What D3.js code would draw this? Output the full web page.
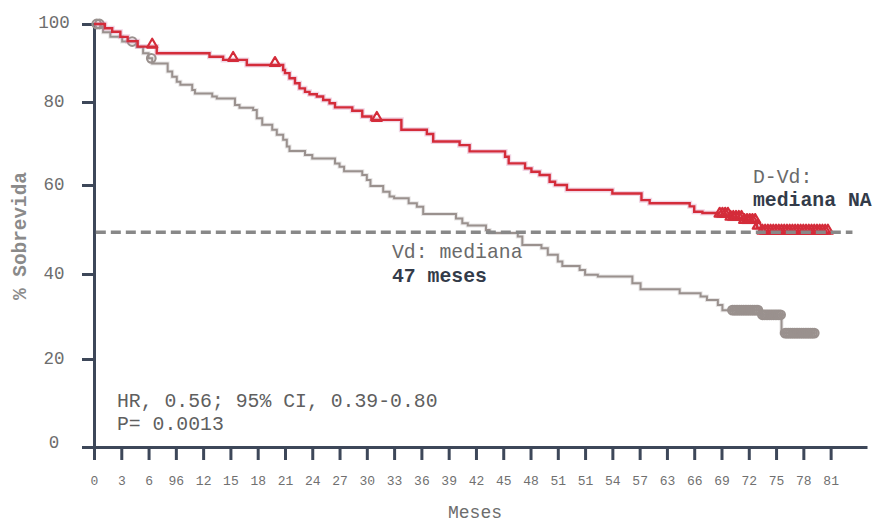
<!DOCTYPE html>
<html>
<head>
<meta charset="utf-8">
<script src="https://cdn.jsdelivr.net/npm/d3@7"></script>
<style>
  html, body { margin: 0; padding: 0; background: #ffffff; }
  svg { display: block; }
  text { font-family: "Liberation Mono", "Courier New", monospace; }
</style>
</head>
<body>
<svg id="chart" width="875" height="524"></svg>
<script>
// ---------- DATA ----------
const xTickLabels = ["0","3","6","96","12","15","18","21","24","27","30","33","36","39","42","45","48","51","51","54","57","63","66","69","72","75","78","81"];
const xTickMonths = [0,3,6,9,12,15,18,21,24,27,30,33,36,39,42,45,48,51,54,57,60,63,66,69,72,75,78,81];
const yTickValues = [0,20,40,60,80,100];

// D-Vd (red) Kaplan-Meier step points: months and % survival
const dvdMonths = [0, 1.2, 2.0, 2.9, 3.7, 4.8, 6.9, 12.7, 14.2, 16.8, 20.8, 21.0, 21.5, 22.1, 22.6, 23.2, 23.7, 24.5, 25.2, 25.9, 26.5, 28.4, 29.5, 30.5, 33.8, 36.6, 37.3, 40.2, 41.3, 45.2, 45.6, 47.4, 48.1, 49.0, 50.1, 50.7, 52.0, 57.0, 60.2, 61.1, 65.5, 66.0, 66.9, 68.6, 69.9, 71.5, 72.9, 73.4, 81.2];
const dvdSurv   = [100, 98.9, 98.0, 96.7, 95.6, 94.2, 92.5, 91.6, 90.8, 89.5, 88.2, 87.4, 86.1, 84.8, 83.5, 82.6, 82.0, 81.4, 80.5, 79.7, 78.7, 77.9, 76.5, 75.7, 73.3, 72.3, 70.5, 69.6, 68.1, 66.8, 65.2, 64.0, 63.2, 62.4, 60.8, 60.0, 58.9, 58.1, 56.6, 55.9, 55.2, 54.0, 53.7, 53.1, 52.4, 51.7, 50.4, 49.3, 49.3];
const dvdCensored = [6.4, 15.3, 19.9, 31.1, 68.8, 69.1, 69.4, 69.7, 70.0, 70.3, 70.6, 70.9, 71.2, 71.5, 71.8, 72.1, 72.4, 72.7, 73.0, 73.5, 73.8, 74.1, 74.4, 74.7, 75.0, 75.3, 75.6, 75.9, 76.2, 76.5, 76.8, 77.1, 77.4, 77.7, 78.0, 78.3, 78.6, 78.9, 79.2, 79.5, 79.8, 80.1, 80.4, 80.7];

// Vd (grey) Kaplan-Meier step points
const vdMonths = [0, 0.7, 1.0, 1.8, 3.1, 4.7, 5.4, 6.0, 6.4, 8.1, 8.6, 9.1, 9.5, 10.8, 11.1, 13.0, 13.5, 15.5, 16.0, 17.5, 17.9, 18.5, 19.6, 20.1, 20.8, 21.2, 21.5, 23.2, 24.0, 26.5, 27.0, 27.5, 29.5, 30.0, 30.4, 31.8, 32.5, 33.0, 34.6, 35.5, 36.2, 39.8, 40.5, 41.1, 43.1, 43.5, 46.6, 47.1, 49.2, 49.9, 51.0, 51.5, 53.4, 54.0, 55.4, 59.2, 60.1, 64.4, 66.7, 67.4, 68.6, 69.1, 73.2, 75.6, 79.2];
const vdSurv   = [100, 99.2, 97.9, 96.7, 95.5, 94.1, 92.5, 91.2, 89.9, 87.8, 86.5, 85.2, 84.4, 83.1, 82.2, 81.4, 80.9, 79.3, 78.6, 78.1, 76.1, 74.5, 73.3, 72.1, 70.9, 69.3, 68.2, 67.2, 66.4, 65.2, 64.4, 63.3, 62.4, 61.2, 59.8, 58.5, 57.4, 57.0, 55.9, 55.1, 53.5, 52.5, 51.4, 50.9, 49.9, 49.2, 48.4, 46.5, 45.8, 44.3, 42.8, 41.8, 40.9, 39.8, 39.4, 37.8, 36.4, 35.5, 34.7, 33.9, 32.7, 31.5, 30.4, 26.1, 26.1];
const vdCensored = [0.3, 0.6, 4.2, 6.3,
  70.2, 70.4, 70.6, 70.8, 71.0, 71.2, 71.4, 71.6, 71.8, 72.0, 72.2, 72.4, 72.6, 72.8, 73.0,
  73.5, 73.7, 73.9, 74.1, 74.3, 74.5, 74.7, 74.9, 75.1, 75.3, 75.5,
  76.0, 76.2, 76.4, 76.6, 76.8, 77.0, 77.2, 77.4, 77.6, 77.8, 78.0, 78.2, 78.4, 78.6, 78.8, 79.0, 79.2];

const medianLevel = 49.4;
const medianSpan = [0.2, 83.4];

const statLines = ["HR, 0.56; 95% CI, 0.39-0.80", "P= 0.0013"];
const dvdNote = ["D-Vd:", "mediana NA"];
const vdNote = ["Vd: mediana", "47 meses"];
const yTitle = "% Sobrevida";
const xTitle = "Meses";

// ---------- LAYOUT ----------
const svg = d3.select("#chart");
const x = d3.scaleLinear().domain([0, 85]).range([94, 867]);
const y = d3.scaleLinear().domain(yTickValues).range([447, 359, 274, 185, 102, 24]);

const AXIS = "#3d4759";
const RED = "#d42c3a";
const GREY = "#9a918e";

// axes
const xAxis = d3.axisBottom(x)
  .tickValues(xTickMonths)
  .tickFormat((d, i) => xTickLabels[i])
  .tickSize(13).tickSizeOuter(0).tickPadding(10);
const gx = svg.append("g").attr("transform", "translate(0,447)").call(xAxis);
gx.select(".domain").attr("stroke", AXIS).attr("stroke-width", 3);
gx.selectAll(".tick line").attr("stroke", AXIS).attr("stroke-width", 3);
gx.selectAll(".tick text")
  .attr("fill", "#707070").attr("font-size", 13)
  .attr("font-family", "Liberation Mono, monospace")
  .attr("y", 0).attr("dy", 38);

const yAxis = d3.axisLeft(y).tickValues(yTickValues).tickSize(12).tickSizeOuter(0);
const gy = svg.append("g").attr("transform", "translate(94,0)").call(yAxis);
gy.select(".domain").attr("stroke", AXIS).attr("stroke-width", 3);
gy.selectAll(".tick line").attr("stroke", AXIS).attr("stroke-width", 3);
gy.selectAll(".tick text")
  .attr("fill", "#6d6d6d").attr("font-size", 17.5)
  .attr("font-family", "Liberation Mono, monospace")
  .attr("text-anchor", "middle").attr("x", -40)
  .attr("dy", d => d === 0 ? "0.05em" : (d === 100 ? "0.2em" : "0.28em"));

// axis titles
svg.append("text")
  .attr("transform", "translate(21,236) rotate(-90)")
  .attr("text-anchor", "middle").attr("dominant-baseline", "central")
  .attr("font-size", 19.4).attr("font-weight", "bold").attr("fill", "#8a8a8a")
  .text(yTitle);
svg.append("text")
  .attr("x", 475).attr("y", 518).attr("text-anchor", "middle")
  .attr("font-size", 18).attr("fill", "#6d6d6d")
  .text(xTitle);

// curves
function pts(months, surv) {
  return months.map((m, i) => [m, surv[i]]);
}
const line = d3.line().x(d => x(d[0])).y(d => y(d[1])).curve(d3.curveStepAfter);
function survAt(months, surv, t) {
  const i = Math.max(0, d3.bisectRight(months, t) - 1);
  return surv[i];
}

const vdPts = pts(vdMonths, vdSurv);
const dvdPts = pts(dvdMonths, dvdSurv);

// grey (Vd)
svg.append("path").datum(vdPts).attr("d", line)
  .attr("fill", "none").attr("stroke", "rgba(160,150,150,0.25)").attr("stroke-width", 4);
svg.append("path").datum(vdPts).attr("d", line)
  .attr("fill", "none").attr("stroke", GREY).attr("stroke-width", 2);
svg.append("g").selectAll("circle").data(vdCensored).join("circle")
  .attr("cx", d => x(d)).attr("cy", d => y(survAt(vdMonths, vdSurv, d)))
  .attr("r", 4.3).attr("fill", "none").attr("stroke", GREY).attr("stroke-width", 2.2);

// red (D-Vd)
svg.append("path").datum(dvdPts).attr("d", line)
  .attr("fill", "none").attr("stroke", "rgba(210,120,170,0.3)").attr("stroke-width", 5);
svg.append("path").datum(dvdPts).attr("d", line)
  .attr("fill", "none").attr("stroke", RED).attr("stroke-width", 2.4);
const tri = d3.symbol(d3.symbolTriangle, 45);
svg.append("g").selectAll("path").data(dvdCensored).join("path")
  .attr("d", tri)
  .attr("transform", d => `translate(${x(d)},${y(survAt(dvdMonths, dvdSurv, d)) - 2})`)
  .attr("fill", "none").attr("stroke", RED).attr("stroke-width", 2.2)
  .attr("stroke-linejoin", "round");

// median dashed line
svg.append("line")
  .attr("x1", x(medianSpan[0])).attr("x2", x(medianSpan[1]))
  .attr("y1", y(medianLevel)).attr("y2", y(medianLevel))
  .attr("stroke", "#888888").attr("stroke-width", 3.5)
  .attr("stroke-dasharray", "10,5");

// annotations
const fs = 19.8;
svg.append("text").attr("x", 753).attr("y", 183).attr("font-size", fs).attr("fill", "#6a6a6a").text(dvdNote[0]);
svg.append("text").attr("x", 753).attr("y", 206).attr("font-size", fs).attr("font-weight", "bold").attr("fill", "#333b49").text(dvdNote[1]);
svg.append("text").attr("x", 392).attr("y", 258).attr("font-size", fs).attr("fill", "#6a6a6a").text(vdNote[0]);
svg.append("text").attr("x", 392).attr("y", 282).attr("font-size", fs).attr("font-weight", "bold").attr("fill", "#333b49").text(vdNote[1]);
svg.append("text").attr("x", 117).attr("y", 407).attr("font-size", fs).attr("fill", "#5f5f5f").text(statLines[0]);
svg.append("text").attr("x", 117).attr("y", 430).attr("font-size", fs).attr("fill", "#5f5f5f").text(statLines[1]);
</script>
</body>
</html>
